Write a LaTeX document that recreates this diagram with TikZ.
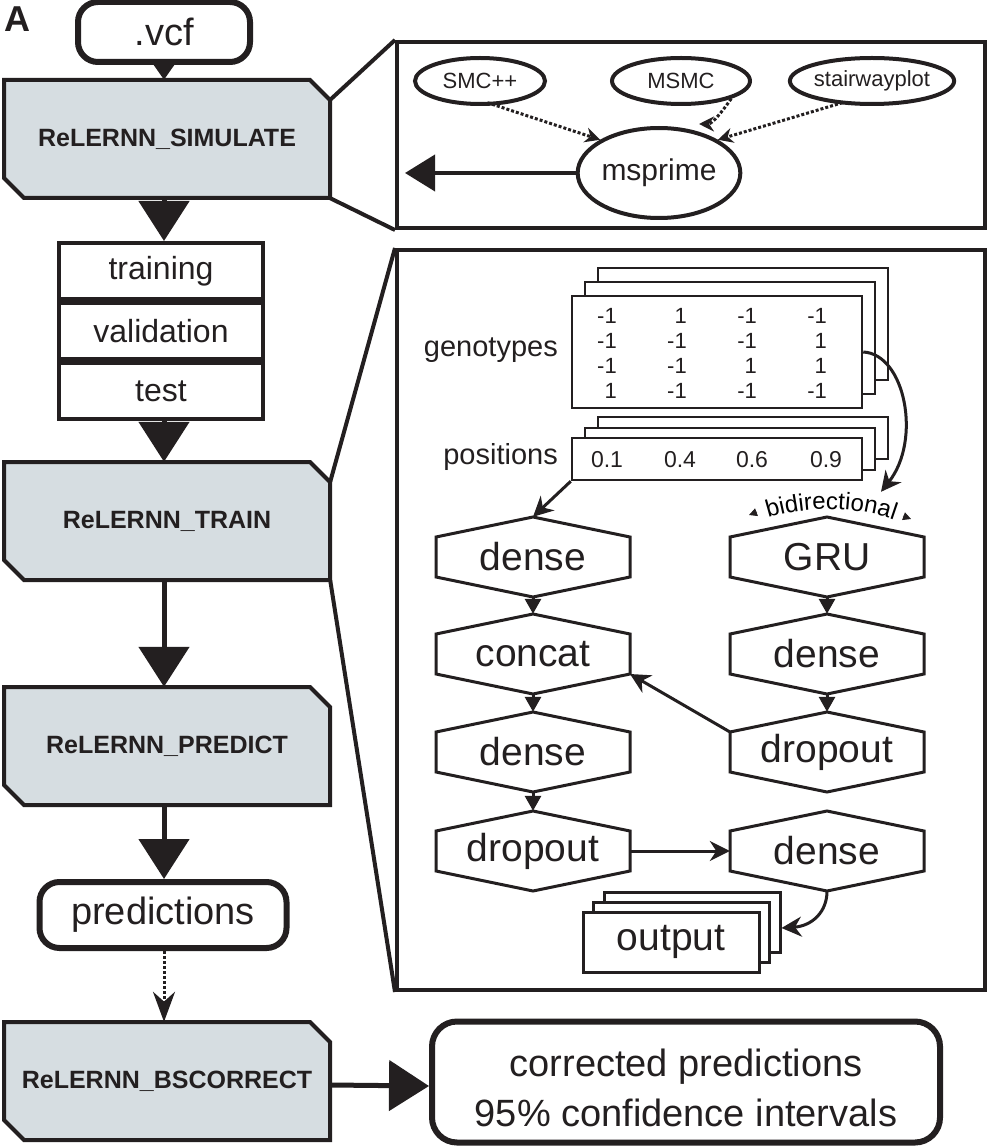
\documentclass[tikz,border=0pt]{standalone}
\usepackage{fontspec}
\setmainfont{Liberation Sans}
\usetikzlibrary{arrows.meta,calc,decorations.text,shapes.geometric}
\definecolor{ink}{HTML}{231F20}
\definecolor{procfill}{HTML}{D6DDE1}
\newcommand\fs[1]{\fontsize{#1}{#1}\selectfont}
\newcommand\procbox[4]{%
  \filldraw[procline] ($(#2,#3)+(-163,-59)$) -- ($(#2,#3)+(143,-59)$) -- ($(#2,#3)+(163,-39)$) -- ($(#2,#3)+(163,59)$) -- ($(#2,#3)+(-143,59)$) -- ($(#2,#3)+(-163,39)$) -- cycle;
  \node[proctext, minimum width=326, minimum height=118] (#1) at (#2,#3) {#4};
}
\newcommand\hexa[4]{%
  \draw[hexline] ($(#2,#3)+(0,-40)$) -- ($(#2,#3)+(97,-20)$) -- ($(#2,#3)+(97,20)$) -- ($(#2,#3)+(0,40)$) -- ($(#2,#3)+(-97,20)$) -- ($(#2,#3)+(-97,-20)$) -- cycle;
  \node[hexlabel] (#1) at (#2,#3) {#4};
}
\begin{document}
\begin{tikzpicture}[x=1pt,y=-1pt,
  every node/.style={text=ink},
  term/.style={draw=ink, line width=6pt, rounded corners=20pt, fill=white, inner sep=0pt, font=\fs{38}},
  proctext/.style={inner sep=0pt, font=\bfseries\fs{25}},
  procline/.style={draw=ink, fill=procfill, line width=4pt},
  splitbox/.style={draw=ink, line width=4pt, minimum width=204pt, minimum height=56pt, inner sep=0pt, font=\fs{32}},
  zoombox/.style={draw=ink, line width=4pt, inner sep=0pt},
  zoomline/.style={draw=ink, line width=4pt},
  bigarrow/.style={draw=ink, line width=5pt, -{Triangle[length=40pt,width=50pt]}},
  ell/.style={ellipse, draw=ink, line width=4pt, inner sep=0pt},
  dotarrow/.style={draw=ink, line width=3pt, dotted, -{Stealth[length=15pt,width=15pt]}},
  hexlabel/.style={minimum width=194pt, minimum height=80pt, inner sep=0pt, font=\fs{39}},
  hexline/.style={draw=ink, line width=3pt},
  smallarrow/.style={draw=ink, line width=3pt, -{Triangle[length=15pt,width=16pt]}},
  thinarrow/.style={draw=ink, line width=3pt, -{Stealth[length=20pt,width=20pt]}},
  stackbox/.style={draw=ink, line width=2.5pt, fill=white, inner sep=0pt},
  numcell/.style={inner sep=0pt, anchor=east, font=\fs{22}},
  poscell/.style={inner sep=0pt, font=\fs{23}},
  sidelabel/.style={inner sep=0pt, anchor=east, font=\fs{29}},
  tinytip/.style={draw=ink, line width=0.8pt, -{Triangle[length=8pt,width=8pt]}},
]
\useasboundingbox (0,0) rectangle (995,1147);

% panel letter
\node[font=\bfseries\fs{36}, inner sep=0pt] (panel) at (17,19) {A};

% left column
\node[term, minimum width=172pt, minimum height=60pt] (vcf) at (164,32) {.vcf};
\procbox{sim}{167}{139}{ReLERNN\_SIMULATE}
\node[splitbox] (training) at (161,271) {training};
\node[splitbox] (validation) at (161,331) {validation};
\node[splitbox] (test) at (161,391) {test};
\procbox{train}{167}{521}{ReLERNN\_TRAIN}
\procbox{predict}{167}{746}{ReLERNN\_PREDICT}
\node[term, minimum width=247pt, minimum height=66pt] (pred) at (163,915) {predictions};
\procbox{bscorrect}{167}{1081}{ReLERNN\_BSCORRECT}
\node[term, minimum width=508pt, minimum height=121pt, rounded corners=25pt] (corr) at (686,1082) {};
\node[inner sep=0pt, align=center, font=\fontsize{38}{50}\selectfont] (corrtext) at (686,1088) {corrected predictions\\95\% confidence intervals};

\draw[draw=ink, line width=4pt, -{Triangle[length=18pt,width=24pt]}] (vcf.south) -- (vcf.south |- sim.north);
\draw[bigarrow] (sim.south -| vcf.south) -- (vcf.south |- training.north);
\draw[bigarrow] (test.south -| vcf.south) -- (vcf.south |- train.north);
\draw[bigarrow] (train.south -| vcf.south) -- (vcf.south |- predict.north);
\draw[bigarrow] (predict.south -| vcf.south) -- (vcf.south |- pred.north);
\draw[draw=ink, line width=3pt, dotted, -{Stealth[length=30pt,width=22pt]}] (pred.south -| vcf.south) -- (vcf.south |- bscorrect.north);
\draw[bigarrow] ($(bscorrect.east)+(0,4)$) -- ($(corr.west)+(0,4)$);

% zoom panel 1
\node[zoombox, minimum width=588pt, minimum height=186pt] (zoom1) at (691,135) {};
\draw[zoomline] ($(sim.north east)+(0,20)$) -- (zoom1.north west);
\draw[zoomline] (sim.south east) -- (zoom1.south west);
\node[ell, minimum width=130pt, minimum height=46pt, font=\fs{22}] (smc) at (480,81) {SMC++};
\node[ell, minimum width=138pt, minimum height=46pt, font=\fs{22}] (msmc) at (681,81) {MSMC};
\node[ell, minimum width=145pt, minimum height=46pt, font=\fs{22}] (stair) at (872,81) {stairwayplot};
\node[ell, minimum width=162pt, minimum height=90pt, font=\fs{30}] (msprime) at (659,173) {msprime};
\coordinate (simret) at (405,173);
\draw[draw=ink, line width=4pt, -{Triangle[length=30pt,width=36pt]}] (msprime.west) -- (simret);
\draw[dotarrow] (smc.south east) ++(-40,4) coordinate (smcout) (smcout) -- (msprime.north west);
\draw[dotarrow] (msmc.south east) .. controls (722,112) and (712,124) .. ($(msprime.north)+(40,-2)$);
\draw[dotarrow] ($(stair.south west)+(30,4)$) -- (msprime.north east);

% zoom panel 2
\node[zoombox, minimum width=588pt, minimum height=740pt] (zoom2) at (691,620) {};
\draw[zoomline] ($(train.north east)+(0,20)$) -- (zoom2.north west);
\draw[zoomline] (train.south east) -- (zoom2.south west);

% genotypes stack
\node[stackbox, minimum width=290pt, minimum height=112pt] (gen3) at (743,324) {};
\node[stackbox, minimum width=290pt, minimum height=112pt] (gen2) at (730,338) {};
\node[stackbox, minimum width=290pt, minimum height=112pt] (gen) at (717,352) {};
\node[sidelabel] (genlabel) at (558,350) {genotypes};
\foreach \r/\y/\a/\b/\c/\d in {1/316/-1/1/-1/-1, 2/341/-1/-1/-1/1, 3/366/-1/-1/1/1, 4/391/1/-1/-1/-1}{
  \node[numcell] (g\r a) at (617,\y) {\a};
  \node[numcell] (g\r b) at (687,\y) {\b};
  \node[numcell] (g\r c) at (757,\y) {\c};
  \node[numcell] (g\r d) at (827,\y) {\d};
}
% positions stack
\node[stackbox, minimum width=290pt, minimum height=42pt] (pos3) at (743,438) {};
\node[stackbox, minimum width=290pt, minimum height=42pt] (pos2) at (730,449) {};
\node[stackbox, minimum width=290pt, minimum height=42pt] (posr) at (717,459) {};
\node[sidelabel] (poslabel) at (558,457) {positions};
\node[poscell] (p1) at (607,460) {0.1};
\node[poscell] (p2) at (680,460) {0.4};
\node[poscell] (p3) at (752,460) {0.6};
\node[poscell] (p4) at (826,460) {0.9};

% network
\hexa{d1}{533}{557}{dense}
\hexa{concat}{533}{654}{concat}
\hexa{d2}{533}{752}{dense}
\hexa{dropL}{533}{851}{dropout}
\hexa{gru}{827}{557}{GRU}
\hexa{d3}{827}{654}{dense}
\hexa{dropR}{827}{752}{dropout}
\hexa{d4}{827}{851}{dense}

\draw[smallarrow] (d1.south) -- (concat.north);
\draw[smallarrow] (concat.south) -- (d2.north);
\draw[smallarrow] (d2.south) -- (dropL.north);
\draw[smallarrow] (gru.south) -- (d3.north);
\draw[smallarrow] (d3.south) -- (dropR.north);
\draw[thinarrow] ($(dropR.center)+(-97,-20)$) -- ($(concat.center)+(97,20)$);
\draw[thinarrow] (dropL.east) -- (d4.west);
\draw[thinarrow] (posr.south west) -- (d1.north);
\draw[thinarrow] (gen.east) .. controls (905,354) and (922,440) .. ($(gru.north)+(54,-25)$);

% bidirectional label
\path[decorate, decoration={text along path, text align=center, text={|\fs{24}|bidirectional}}]
  (760,521) .. controls (800,505) and (860,505) .. (902,523);
\coordinate (bl1) at (757,512);
\coordinate (bl2) at (749,515);
\coordinate (br1) at (903,516);
\coordinate (br2) at (911,519);
\draw[tinytip] (bl1) -- (bl2);
\draw[tinytip] (br1) -- (br2);

% output stack
\node[stackbox, line width=3pt, minimum width=176pt, minimum height=60pt] (out3) at (692,922) {};
\node[stackbox, line width=3pt, minimum width=176pt, minimum height=60pt] (out2) at (681,932) {};
\node[stackbox, line width=3pt, minimum width=176pt, minimum height=60pt, font=\fs{39}] (out) at (671,942) {output};
\draw[draw=ink, line width=3pt, -{Stealth[length=20pt,width=20pt]}] (d4.south) .. controls (827,912) and (812,926) .. ($(out3.east)+(0,6)$);
\end{tikzpicture}
\end{document}
